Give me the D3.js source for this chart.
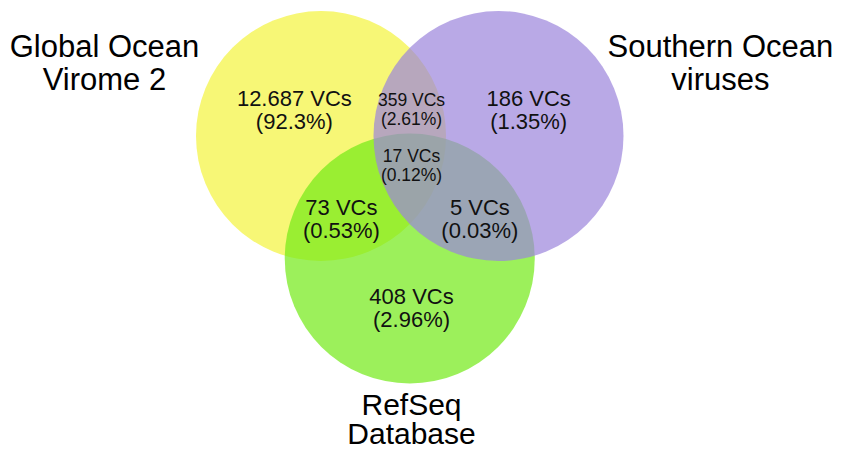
<!DOCTYPE html>
<html>
<head>
<meta charset="utf-8">
<script src="https://cdn.jsdelivr.net/npm/d3@7"></script>
<style>
  html, body { margin: 0; padding: 0; background: #fff; }
  svg { display: block; font-family: "Liberation Sans", Arial, sans-serif; }
</style>
</head>
<body>
<svg id="chart"></svg>
<script>
// sets of the venn
const setNames = ["Global Ocean\nVirome 2", "Southern Ocean\nviruses", "RefSeq\nDatabase"];
// regions: which sets they belong to, count, share
const regionSets = [[0], [1], [2], [0, 1], [0, 2], [1, 2], [0, 1, 2]];
const regionCounts = ["12.687", "186", "408", "359", "73", "5", "17"];
const regionShares = ["92.3%", "1.35%", "2.96%", "2.61%", "0.53%", "0.03%", "0.12%"];

const width = 843, height = 451;

// layout in abstract units (circle centres sit on -1 / 0 / +1)
const x = d3.scaleLinear().domain([-1, 1]).range([321, 498.5]);
const y = d3.scaleLinear().domain([0, 1]).range([136, 258.5]);
const radius = 125;

const circleLayout = [
    { u: -1, v: 0, fill: "rgb(247,247,118)", op: 1 },
    { u: 1, v: 0, fill: "rgb(155,132,219)", op: 0.7 },
    { u: 0, v: 1, fill: "rgb(114,234,22)", op: 0.7 }
];
const setLabelLayout = [
    { u: -3.44, v: -0.645, lh: 33, fs: 31 },
    { u: 3.5, v: -0.645, lh: 33, fs: 31 },
    { u: 0.02, v: 2.28, lh: 29, fs: 30 }
];
// label anchors per region (first line baseline), font size
const regionLayout = [
    { u: -1.30, v: -0.245, fs: 22 },
    { u: 1.34, v: -0.245, fs: 22 },
    { u: 0.02, v: 1.371, fs: 22 },
    { u: 0.02, v: -0.245, fs: 17.5 },
    { u: -0.77, v: 0.645, fs: 22 },
    { u: 0.79, v: 0.645, fs: 22 },
    { u: 0.02, v: 0.212, fs: 17.5 }
];

const svg = d3.select("#chart")
    .attr("width", width)
    .attr("height", height);

// draw order: yellow, green, purple
const order = [0, 2, 1];
svg.append("g")
    .selectAll("circle")
    .data(order)
    .join("circle")
    .attr("cx", i => x(circleLayout[i].u))
    .attr("cy", i => y(circleLayout[i].v))
    .attr("r", radius)
    .attr("fill", i => circleLayout[i].fill)
    .attr("fill-opacity", i => circleLayout[i].op);

// set names
svg.append("g")
    .attr("text-anchor", "middle")
    .selectAll("text")
    .data(setNames.map((n, i) => ({ n, lay: setLabelLayout[i] })))
    .join("text")
    .attr("font-size", d => d.lay.fs)
    .attr("fill", "#000")
    .attr("transform", d => `translate(${x(d.lay.u)},${y(d.lay.v)})`)
    .call(t => t.selectAll("tspan")
        .data(d => d.n.split("\n").map(s => ({ s, lh: d.lay.lh })))
        .join("tspan")
        .attr("x", 0)
        .attr("y", (d, j) => j * d.lh)
        .text(d => d.s));

// region counts
const regions = regionSets.map((s, i) => ({ sets: s, count: regionCounts[i], share: regionShares[i], lay: regionLayout[i] }));
svg.append("g")
    .attr("text-anchor", "middle")
    .selectAll("text")
    .data(regions)
    .join("text")
    .attr("fill", "#111")
    .attr("font-size", d => d.lay.fs)
    .attr("transform", d => `translate(${x(d.lay.u)},${y(d.lay.v)})`)
    .call(t => t.selectAll("tspan")
        .data(d => [d.count + " VCs", "(" + d.share + ")"].map(s => ({ s, fs: d.lay.fs })))
        .join("tspan")
        .attr("x", 0)
        .attr("y", (d, j) => j * d.fs * 1.06)
        .text(d => d.s));
</script>
</body>
</html>
